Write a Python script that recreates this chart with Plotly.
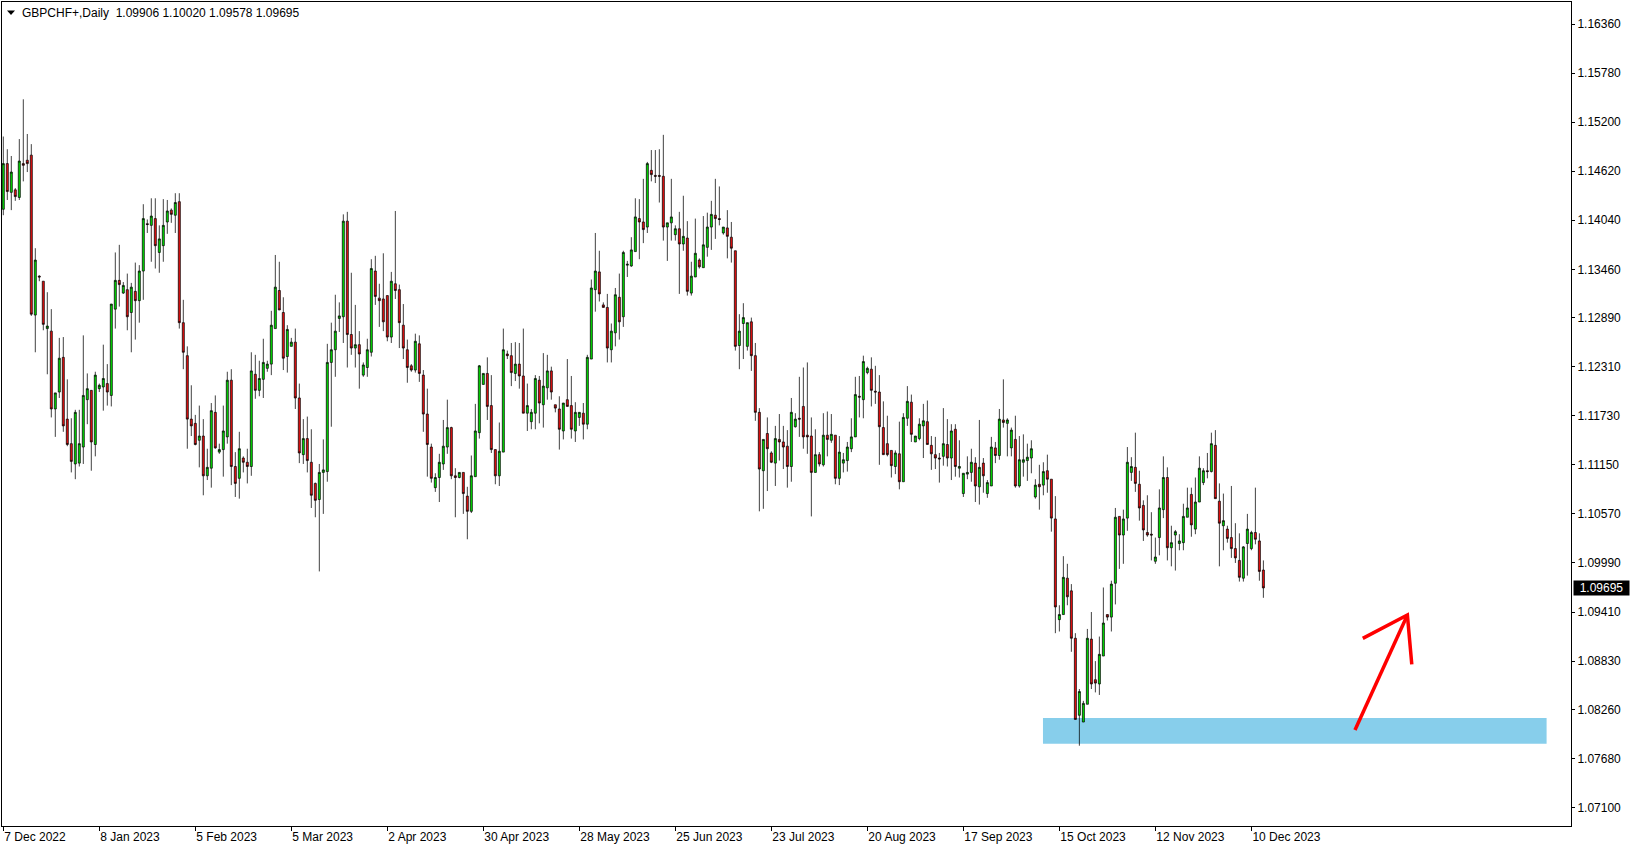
import plotly.graph_objects as go

# ---------------- data ----------------
opens = [
1.1417,1.1471,1.1437,1.1440,1.1431,1.1471,1.1475,1.1481,1.1292,1.1338,
1.1332,1.1276,1.1273,1.1181,1.1201,1.1242,1.1169,1.1140,1.1116,1.1117,
1.1136,1.1192,1.1203,1.1139,1.1205,1.1207,1.1211,1.1197,1.1299,1.1333,
1.1318,1.1322,1.1295,1.1320,1.1309,1.1344,1.1400,1.1398,1.1406,1.1366,
1.1374,1.1402,1.1416,1.1410,1.1426,1.1283,1.1244,1.1169,1.1164,1.1144,
1.1149,1.1102,1.1111,1.1177,1.1130,1.1133,1.1148,1.1215,1.1113,1.1099,
1.1123,1.1118,1.1113,1.1222,1.1203,1.1216,1.1229,1.1234,1.1276,1.1321,
1.1295,1.1243,1.1255,1.1260,1.1194,1.1127,1.1146,1.1118,1.1093,1.1074,
1.1106,1.1107,1.1236,1.1251,1.1288,1.1290,1.1403,1.1269,1.1253,1.1257,
1.1221,1.1230,1.1248,1.1344,1.1312,1.1311,1.1315,1.1266,1.1329,1.1322,
1.1280,1.1251,1.1232,1.1227,1.1258,1.1221,1.1175,1.1136,1.1088,1.1100,
1.1116,1.1136,1.1159,1.1102,1.1100,1.1106,1.1078,1.1060,1.1101,1.1153,
1.1210,1.1223,1.1185,1.1133,1.1102,1.1130,1.1246,1.1244,1.1223,1.1234,
1.1220,1.1176,1.1166,1.1176,1.1215,1.1186,1.1206,1.1226,1.1186,1.1181,
1.1155,1.1192,1.1185,1.1155,1.1171,1.1176,1.1163,1.1240,1.1322,1.1343,
1.1304,1.1301,1.1251,1.1271,1.1313,1.1290,1.1351,1.1350,1.1367,1.1406,
1.1402,1.1396,1.1463,1.1457,1.1457,1.1456,1.1396,1.1401,1.1387,1.1394,
1.1376,1.1383,1.1318,1.1337,1.1357,1.1348,1.1372,1.1396,1.1410,1.1406,
1.1389,1.1395,1.1384,1.1368,1.1256,1.1282,1.1255,1.1284,1.1244,1.1177,
1.1108,1.1152,1.1129,1.1117,1.1145,1.1142,1.1137,1.1113,1.1160,1.1170,
1.1184,1.1150,1.1149,1.1106,1.1127,1.1115,1.1150,1.1144,1.1150,1.1099,
1.1117,1.1120,1.1134,1.1148,1.1196,1.1192,1.1224,1.1228,1.1202,1.1201,
1.1159,1.1140,1.1132,1.1113,1.1128,1.1095,1.1170,1.1189,1.1142,1.1146,
1.1161,1.1166,1.1138,1.1127,1.1123,1.1125,1.1139,1.1123,1.1157,1.1111,
1.1081,1.1104,1.1106,1.1117,1.1089,1.1117,1.1081,1.1090,1.1135,1.1126,
1.1168,1.1164,1.1135,1.1145,1.1090,1.1118,1.1120,1.1123,1.1077,1.1092,
1.1091,1.1108,1.1098,1.1051,1.0932,1.0938,1.0981,1.0966,1.0910,1.0819,
1.0811,1.0832,1.0909,1.0861,1.0856,1.0889,1.0938,1.0935,1.0975,1.1054,
1.1032,1.1052,1.1106,1.1112,1.1092,1.1067,1.1035,1.1033,1.1001,1.1029,
1.1062,1.1100,1.1017,1.1032,1.1022,1.1023,1.1053,1.1080,1.1039,1.1071,
1.1094,1.1108,1.1107,1.1138,1.1072,1.1043,1.1039,1.1029,1.1016,1.1002,
1.0981,1.1022,1.1016,1.1035,1.1025,1.09906]

highs = [
1.1503,1.1488,1.1480,1.1442,1.1500,1.1547,1.1506,1.1494,1.1371,1.1339,
1.1332,1.1319,1.1299,1.1200,1.1265,1.1266,1.1216,1.1170,1.1180,1.1180,
1.1268,1.1223,1.1203,1.1225,1.1211,1.1257,1.1234,1.1305,1.1366,1.1375,
1.1331,1.1341,1.1330,1.1354,1.1351,1.1423,1.1405,1.1430,1.1430,1.1398,
1.1429,1.1428,1.1418,1.1436,1.1436,1.1310,1.1255,1.1209,1.1174,1.1185,
1.1169,1.1134,1.1188,1.1197,1.1140,1.1185,1.1225,1.1228,1.1130,1.1154,
1.1125,1.1134,1.1248,1.1245,1.1238,1.1264,1.1238,1.1297,1.1363,1.1355,
1.1313,1.1280,1.1265,1.1276,1.1211,1.1169,1.1172,1.1157,1.1094,1.1116,
1.1145,1.1258,1.1283,1.1316,1.1307,1.1411,1.1414,1.1342,1.1304,1.1273,
1.1236,1.1264,1.1358,1.1362,1.1329,1.1365,1.1315,1.1343,1.1415,1.1328,
1.1305,1.1263,1.1234,1.1270,1.1268,1.1227,1.1205,1.1140,1.1105,1.1128,
1.1168,1.1192,1.1160,1.1111,1.1106,1.1106,1.1089,1.1126,1.1187,1.1233,
1.1223,1.1242,1.1221,1.1133,1.1165,1.1276,1.1250,1.1259,1.1260,1.1259,
1.1276,1.1211,1.1181,1.1221,1.1220,1.1247,1.1245,1.1231,1.1186,1.1196,
1.1188,1.1240,1.1220,1.1189,1.1177,1.1188,1.1245,1.1334,1.1389,1.1368,
1.1307,1.1317,1.1282,1.1324,1.1341,1.1368,1.1356,1.1384,1.1430,1.1429,
1.1453,1.1473,1.1487,1.1487,1.1488,1.1505,1.1401,1.1453,1.1398,1.1414,
1.1433,1.1403,1.1355,1.1406,1.1359,1.1409,1.1413,1.1427,1.1453,1.1444,
1.1396,1.1416,1.1402,1.1368,1.1293,1.1306,1.1283,1.1289,1.1259,1.1182,
1.1145,1.1171,1.1131,1.1161,1.1175,1.1161,1.1156,1.1194,1.1176,1.1219,
1.1230,1.1236,1.1171,1.1157,1.1130,1.1176,1.1178,1.1175,1.1150,1.1149,
1.1129,1.1142,1.1170,1.1219,1.1220,1.1244,1.1231,1.1242,1.1232,1.1221,
1.1190,1.1173,1.1132,1.1132,1.1166,1.1176,1.1208,1.1198,1.1149,1.1170,
1.1187,1.1191,1.1149,1.1148,1.1129,1.1182,1.1169,1.1163,1.1163,1.1144,
1.1105,1.1125,1.1134,1.1124,1.1168,1.1123,1.1097,1.1148,1.1142,1.1181,
1.1216,1.1170,1.1159,1.1173,1.1149,1.1151,1.1140,1.1144,1.1098,1.1115,
1.1118,1.1127,1.1098,1.1078,1.0949,1.1007,1.0998,1.0974,1.0916,1.0850,
1.0836,1.0921,1.0941,1.0883,1.0912,1.0970,1.0938,1.0978,1.1064,1.1054,
1.1062,1.1136,1.1124,1.1153,1.1108,1.1073,1.1079,1.1059,1.1029,1.1086,
1.1125,1.1112,1.1043,1.1038,1.1033,1.1069,1.1088,1.1088,1.1100,1.1125,
1.1111,1.1129,1.1153,1.1156,1.1093,1.1081,1.1043,1.1090,1.1046,1.1034,
1.1019,1.1057,1.1037,1.1088,1.1034,1.10020]

lows = [
1.1410,1.1428,1.1416,1.1427,1.1428,1.1450,1.1461,1.1291,1.1248,1.1332,
1.1274,1.1222,1.1171,1.1148,1.1194,1.1154,1.1137,1.1106,1.1098,1.1113,
1.1116,1.1163,1.1108,1.1125,1.1201,1.1179,1.1185,1.1184,1.1276,1.1302,
1.1317,1.1274,1.1248,1.1263,1.1283,1.1310,1.1389,1.1355,1.1347,1.1342,
1.1355,1.1388,1.1401,1.1389,1.1276,1.1228,1.1134,1.1149,1.1138,1.1112,
1.1079,1.1097,1.1088,1.1134,1.1128,1.1101,1.1140,1.1091,1.1077,1.1075,
1.1106,1.1093,1.1102,1.1193,1.1196,1.1194,1.1225,1.1221,1.1276,1.1298,
1.1227,1.1224,1.1255,1.1181,1.1117,1.1116,1.1106,1.1064,1.1053,1.0989,
1.1057,1.1095,1.1160,1.1219,1.1272,1.1259,1.1230,1.1245,1.1230,1.1205,
1.1219,1.1219,1.1243,1.1304,1.1278,1.1273,1.1261,1.1259,1.1311,1.1253,
1.1240,1.1212,1.1225,1.1224,1.1213,1.1154,1.1101,1.1094,1.1083,1.1071,
1.1109,1.1128,1.1098,1.1053,1.1099,1.1057,1.1027,1.1058,1.1101,1.1146,
1.1210,1.1168,1.1129,1.1092,1.1090,1.1130,1.1240,1.1208,1.1214,1.1205,
1.1176,1.1155,1.1157,1.1157,1.1164,1.1159,1.1192,1.1192,1.1177,1.1133,
1.1145,1.1184,1.1146,1.1142,1.1161,1.1145,1.1157,1.1240,1.1296,1.1308,
1.1301,1.1236,1.1236,1.1255,1.1263,1.1278,1.1337,1.1349,1.1367,1.1358,
1.1377,1.1389,1.1450,1.1448,1.1425,1.1380,1.1356,1.1380,1.1380,1.1317,
1.1368,1.1315,1.1315,1.1337,1.1347,1.1348,1.1361,1.1369,1.1382,1.1398,
1.1387,1.1359,1.1354,1.1250,1.1228,1.1240,1.1250,1.1226,1.1167,1.1060,
1.1063,1.1084,1.1117,1.1090,1.1120,1.1110,1.1088,1.1095,1.1159,1.1148,
1.1134,1.1128,1.1054,1.1106,1.1113,1.1113,1.1125,1.1141,1.1092,1.1091,
1.1106,1.1107,1.1130,1.1148,1.1171,1.1170,1.1222,1.1184,1.1187,1.1115,
1.1127,1.1125,1.1100,1.1104,1.1086,1.1095,1.1161,1.1142,1.1142,1.1144,
1.1123,1.1139,1.1109,1.1110,1.1094,1.1114,1.1113,1.1097,1.1101,1.1100,
1.1077,1.1098,1.1095,1.1071,1.1068,1.1082,1.1076,1.1090,1.1117,1.1121,
1.1159,1.1125,1.1125,1.1088,1.1088,1.1101,1.1096,1.1105,1.1075,1.1062,
1.1079,1.1082,1.1036,1.0916,1.0918,1.0938,1.0949,1.0894,1.0814,1.0783,
1.0811,1.0832,1.0850,1.0846,1.0843,1.0889,1.0931,1.0918,1.0950,1.0992,
1.0998,1.1037,1.1096,1.1083,1.1049,1.1025,1.1030,1.1002,1.0998,1.1008,
1.1052,1.1002,1.0995,1.0990,1.1014,1.1014,1.1053,1.1030,1.1033,1.1071,
1.1091,1.1099,1.1106,1.1075,1.0995,1.1014,1.1023,1.1005,1.0999,1.0977,
1.0977,1.0984,1.1014,1.1021,1.0978,1.09578]

closes = [
1.1471,1.1438,1.1461,1.1432,1.1474,1.1469,1.1471,1.1293,1.1357,1.1337,
1.1281,1.1279,1.1181,1.1200,1.1241,1.1161,1.1139,1.1119,1.1177,1.1140,
1.1197,1.1205,1.1142,1.1221,1.1209,1.1217,1.1201,1.1305,1.1333,1.1328,
1.1327,1.1290,1.1325,1.1309,1.1344,1.1406,1.1399,1.1409,1.1374,1.1382,
1.1398,1.1415,1.1411,1.1425,1.1283,1.1248,1.1169,1.1161,1.1139,1.1149,
1.1102,1.1112,1.1179,1.1135,1.1133,1.1155,1.1215,1.1113,1.1093,1.1134,
1.1118,1.1113,1.1226,1.1203,1.1217,1.1236,1.1234,1.1280,1.1325,1.1298,
1.1241,1.1275,1.1260,1.1194,1.1129,1.1146,1.1120,1.1079,1.1073,1.1106,
1.1109,1.1236,1.1251,1.1273,1.1291,1.1403,1.1269,1.1253,1.1257,1.1246,
1.1233,1.1251,1.1347,1.1314,1.1309,1.1284,1.1266,1.1332,1.1321,1.1283,
1.1253,1.1230,1.1227,1.1261,1.1223,1.1175,1.1139,1.1099,1.1100,1.1118,
1.1137,1.1159,1.1102,1.1100,1.1106,1.1081,1.1060,1.1102,1.1155,1.1232,
1.1223,1.1184,1.1133,1.1102,1.1131,1.1251,1.1244,1.1224,1.1234,1.1220,
1.1176,1.1185,1.1177,1.1217,1.1188,1.1208,1.1226,1.1201,1.1182,1.1157,
1.1188,1.1184,1.1157,1.1177,1.1177,1.1163,1.1242,1.1324,1.1344,1.1317,
1.1301,1.1253,1.1273,1.1316,1.1284,1.1366,1.1352,1.1369,1.1408,1.1402,
1.1393,1.1471,1.1458,1.1456,1.1456,1.1396,1.1401,1.1408,1.1394,1.1376,
1.1385,1.1320,1.1338,1.1365,1.1349,1.1375,1.1396,1.1411,1.1406,1.1405,
1.1396,1.1385,1.1371,1.1255,1.1273,1.1289,1.1283,1.1244,1.1177,1.1110,
1.1145,1.1134,1.1118,1.1146,1.1142,1.1136,1.1113,1.1177,1.1169,1.1169,
1.1148,1.1148,1.1106,1.1127,1.1116,1.1150,1.1145,1.1151,1.1099,1.1130,
1.1121,1.1136,1.1148,1.1198,1.1195,1.1237,1.1229,1.1203,1.1201,1.1160,
1.1127,1.1127,1.1114,1.1129,1.1095,1.1171,1.1190,1.1151,1.1149,1.1163,
1.1167,1.1139,1.1128,1.1123,1.1122,1.1140,1.1123,1.1155,1.1113,1.1113,
1.1105,1.1106,1.1118,1.1090,1.1112,1.1102,1.1094,1.1136,1.1126,1.1169,
1.1165,1.1168,1.1156,1.1090,1.1121,1.1121,1.1124,1.1134,1.1091,1.1089,
1.1107,1.1098,1.1052,1.0947,1.0938,1.0982,1.0959,1.0910,1.0814,1.0847,
1.0833,1.0910,1.0856,1.0857,1.0891,1.0928,1.0935,1.0974,1.1053,1.1032,
1.1051,1.1118,1.1113,1.1093,1.1064,1.1038,1.1032,1.1032,1.1006,1.1064,
1.1100,1.1017,1.1023,1.1036,1.1025,1.1054,1.1064,1.1044,1.1071,1.1111,
1.1108,1.1107,1.1140,1.1075,1.1046,1.1049,1.1028,1.1016,1.1005,1.0982,
1.1018,1.1039,1.1035,1.1027,1.0989,1.09695]

bar_index = list(range(len(closes)))

date_positions = [0, 24, 48, 72, 96, 120, 144, 168, 192, 216, 240, 264, 288, 312]
date_labels = ["7 Dec 2022", "8 Jan 2023", "5 Feb 2023", "5 Mar 2023", "2 Apr 2023",
               "30 Apr 2023", "28 May 2023", "25 Jun 2023", "23 Jul 2023", "20 Aug 2023",
               "17 Sep 2023", "15 Oct 2023", "12 Nov 2023", "10 Dec 2023"]

price_ticks = [1.16360, 1.15780, 1.15200, 1.14620, 1.14040, 1.13460, 1.12890, 1.12310,
               1.11730, 1.11150, 1.10570, 1.09990, 1.09410, 1.08830, 1.08260, 1.07680, 1.07100]
price_tick_text = ["%.5f" % v for v in price_ticks]

symbol_title = "GBPCHF+,Daily"
last_ohlc = [1.09906, 1.10020, 1.09578, 1.09695]

# support zone and hand-drawn arrow (bar index / price)
zone_x = [259.9, 385.8]
zone_y = [1.07853, 1.08157]
arrow_x = [337.9, 351.0, None, 339.85, 351.0, 352.1]
arrow_y = [1.08015, 1.09375, None, 1.09099, 1.09375, 1.08792]

x_range = [-0.325, 391.9]
y_range = [1.06881, 1.16620]

BULL = "#00E600"
BEAR = "#F01010"
FONT = "Liberation Sans"

# ---------------- figure ----------------
fig = go.Figure()

fig.add_trace(go.Candlestick(
    x=bar_index, open=opens, high=highs, low=lows, close=closes,
    increasing=dict(fillcolor=BULL, line=dict(color="black", width=0.75)),
    decreasing=dict(fillcolor=BEAR, line=dict(color="black", width=0.75)),
    whiskerwidth=0, hoverinfo="skip", showlegend=False))

fig.add_trace(go.Scatter(
    x=arrow_x, y=arrow_y, mode="lines",
    line=dict(color="#FF0000", width=3.5),
    hoverinfo="skip", showlegend=False))

fig.add_shape(type="rect", xref="x", yref="y",
              x0=zone_x[0], x1=zone_x[1], y0=zone_y[0], y1=zone_y[1],
              fillcolor="#87CEEB", line=dict(width=0), layer="below")

# small header triangle
fig.add_shape(type="path", xref="paper", yref="paper",
              xsizemode="pixel", ysizemode="pixel", xanchor=0, yanchor=1,
              path="M 5,-8.5 L 13,-8.5 L 9,-13 Z",
              fillcolor="black", line=dict(width=0))

fig.add_annotation(
    x=0, y=1, xref="paper", yref="paper", xanchor="left", yanchor="middle",
    xshift=18, yshift=-10.5, showarrow=False,
    text=symbol_title + "\u00a0\u00a0" + " ".join("%.5f" % v for v in last_ohlc),
    font=dict(family=FONT, size=12, color="black"))

fig.add_annotation(
    x=1, y=last_ohlc[3], xref="paper", yref="y", xanchor="left", yanchor="middle",
    xshift=2, showarrow=False, text="%.5f" % last_ohlc[3],
    bgcolor="black", width=55, height=14, borderpad=0,
    font=dict(family=FONT, size=12, color="white"))

fig.update_layout(
    width=1635, height=850,
    margin=dict(l=2, r=64, t=2, b=24, pad=0),
    paper_bgcolor="white", plot_bgcolor="white",
    showlegend=False, hovermode=False, boxgap=0.28,
    font=dict(family=FONT, size=12, color="black"),
    xaxis=dict(type="linear", range=x_range, tickmode="array",
               tickvals=date_positions, ticktext=date_labels,
               ticks="outside", ticklen=4, tickcolor="black", tickwidth=1,
               ticklabelposition="outside right",
               showline=True, linecolor="black", linewidth=1, mirror=True,
               showgrid=False, zeroline=False, rangeslider=dict(visible=False),
               automargin=False,
               tickfont=dict(family=FONT, size=12, color="black")),
    yaxis=dict(side="right", range=y_range, tickmode="array",
               tickvals=price_ticks, ticktext=price_tick_text,
               ticks="outside", ticklen=3, tickcolor="black", tickwidth=1,
               showline=True, linecolor="black", linewidth=1, mirror=True,
               showgrid=False, zeroline=False, automargin=False,
               tickfont=dict(family=FONT, size=12, color="black")),
)

fig.write_html(
    "out.html",
    config={"displayModeBar": False, "staticPlot": True},
    post_script="document.body.style.margin='0';document.body.style.overflow='hidden';")
